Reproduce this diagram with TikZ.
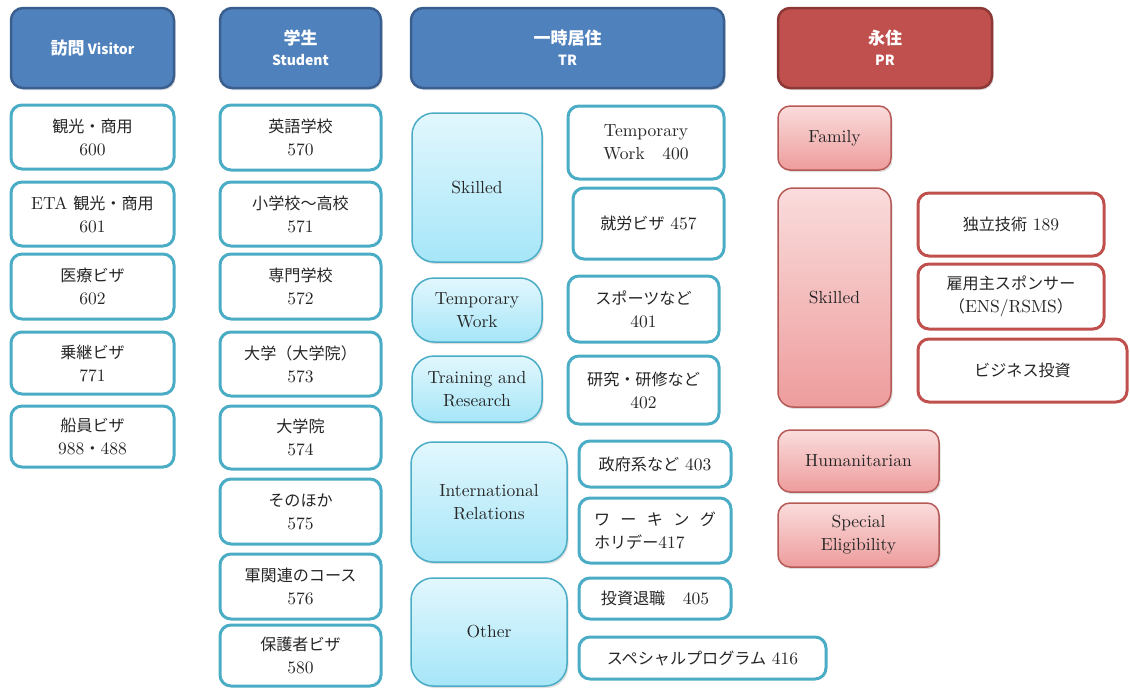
\documentclass[tikz,border=0pt]{standalone}
\usepackage{fontspec}
\setmainfont{lmroman10-regular}[Extension=.otf]
\newfontfamily\jp{Noto Sans CJK JP}[Scale=0.92]
\newfontfamily\jh{Noto Sans CJK JP}
\newcommand\hj[1]{{\fontsize{17}{21}\selectfont #1}}
\usetikzlibrary{shadows}
\definecolor{hdblue}{HTML}{4F81BD}
\definecolor{hdbluedark}{HTML}{3A5F8E}
\definecolor{hdred}{HTML}{C0504D}
\definecolor{hdreddark}{HTML}{8C3836}
\definecolor{tealb}{HTML}{4BACC6}
\definecolor{redb}{HTML}{C0504D}
\definecolor{pinkb}{HTML}{B65A57}
\definecolor{cyantop}{HTML}{E2F7FD}
\definecolor{cyanbot}{HTML}{A6E6F8}
\definecolor{pinktop}{HTML}{FADCDC}
\definecolor{pinkbot}{HTML}{EE9C9C}
\newcommand\mkbox[7]{\node[#6, minimum width={(#4-#2-2)*1pt}, minimum height={(#5-#3-2)*1pt}] (#1) at ({(#2+#4)/2},{(#3+#5)/2}) {#7};}
\tikzset{
  shad/.style={drop shadow={opacity=0.25, shadow xshift=1.5pt, shadow yshift=-2pt}},
  hdr/.style={rounded corners=12pt, draw=hdbluedark, line width=2.5pt, fill=hdblue, text=white,
    font=\jh\bfseries\fontsize{14}{21}\selectfont, align=center, inner sep=2pt, shad},
  hdrred/.style={hdr, draw=hdreddark, fill=hdred},
  wbox/.style={rounded corners=11pt, draw=tealb, line width=3pt, fill=white, align=center,
    font=\fontsize{17.5}{23}\selectfont, inner sep=2pt, text=black!85},
  rbox/.style={wbox, draw=redb},
  cbox/.style={rounded corners=22pt, draw=tealb, line width=1.5pt, top color=cyantop, bottom color=cyanbot,
    align=center, font=\fontsize{17.5}{23}\selectfont, inner sep=2pt, text=black!85, shad},
  pbox/.style={rounded corners=12pt, draw=pinkb, line width=1.5pt, top color=pinktop, bottom color=pinkbot,
    align=center, font=\fontsize{17.5}{23}\selectfont, inner sep=2pt, text=black!85, shad},
}
\begin{document}
\begin{tikzpicture}[x=1pt,y=-1pt]
\useasboundingbox (0,0) rectangle (1130,689);
% headers
\mkbox{hv}{10}{7}{175}{89}{hdr}{\hj{訪問} Visitor}
\mkbox{hs}{219}{7}{382}{89}{hdr}{\hj{学生}\\Student}
\mkbox{ht}{410}{7}{725}{89}{hdr}{\hj{一時居住}\\TR}
\mkbox{hp}{777}{7}{993}{89}{hdrred}{\hj{永住}\\PR}
% visitor
\mkbox{v1}{10}{104}{175}{170}{wbox}{{\jp 観光・商用}\\600}
\mkbox{v2}{10}{181}{175}{247}{wbox}{ETA {\jp 観光・商用}\\601}
\mkbox{v3}{10}{253}{175}{320}{wbox}{{\jp 医療ビザ}\\602}
\mkbox{v4}{10}{331}{175}{395}{wbox}{{\jp 乗継ビザ}\\771}
\mkbox{v5}{10}{405}{175}{468}{wbox}{{\jp 船員ビザ}\\988{\jp ・}488}
% student
\mkbox{s1}{219}{104}{382}{171}{wbox}{{\jp 英語学校}\\570}
\mkbox{s2}{219}{181}{382}{247}{wbox}{{\jp 小学校〜高校}\\571}
\mkbox{s3}{219}{253}{382}{320}{wbox}{{\jp 専門学校}\\572}
\mkbox{s4}{219}{331}{382}{397}{wbox}{{\jp 大学（大学院）}\\573}
\mkbox{s5}{219}{405}{382}{470}{wbox}{{\jp 大学院}\\574}
\mkbox{s6}{219}{478}{382}{545}{wbox}{{\jp そのほか}\\575}
\mkbox{s7}{219}{553}{382}{620}{wbox}{{\jp 軍関連のコース}\\576}
\mkbox{s8}{219}{624}{382}{687}{wbox}{{\jp 保護者ビザ}\\580}
% TR categories
\mkbox{c1}{411}{112}{543}{263}{cbox}{Skilled}
\mkbox{c2}{411}{277}{543}{343}{cbox}{Temporary\\Work}
\mkbox{c3}{411}{355}{543}{423}{cbox}{Training and\\Research}
\mkbox{c4}{410}{441}{568}{563}{cbox}{International\\Relations}
\mkbox{c5}{410}{577}{568}{687}{cbox}{Other}
% TR visas
\mkbox{t1}{567}{105}{725}{180}{wbox}{Temporary\\Work\quad 400}
\mkbox{t2}{572}{187}{725}{260}{wbox}{{\jp 就労ビザ} 457}
\mkbox{t3}{567}{275}{720}{343}{wbox}{{\jp スポーツなど}\\401}
\mkbox{t4}{567}{355}{720}{425}{wbox}{{\jp 研究・研修など}\\402}
\mkbox{t5}{578}{440}{732}{488}{wbox}{{\jp 政府系など} 403}
\mkbox{t6}{578}{497}{732}{564}{wbox,align=left}{{\jp\makebox[122pt][s]{ワ\hfill ー\hfill キ\hfill ン\hfill グ}}\\{\jp ホリデー}417}
\mkbox{t7}{578}{577}{732}{620}{wbox}{{\jp 投資退職}\quad 405}
\mkbox{t8}{578}{636}{827}{680}{wbox}{{\jp スペシャルプログラム} 416}
% PR
\mkbox{p1}{777}{105}{892}{171}{pbox}{Family}
\mkbox{p2}{777}{187}{892}{408}{pbox,rounded corners=15pt}{Skilled}
\mkbox{p3}{777}{429}{940}{493}{pbox}{Humanitarian}
\mkbox{p4}{777}{502}{940}{568}{pbox}{Special\\Eligibility}
\mkbox{r1}{917}{192}{1105}{257}{rbox}{{\jp 独立技術} 189}
\mkbox{r2}{917}{263}{1105}{330}{rbox}{{\jp 雇用主スポンサー}\\{\jp （}ENS/RSMS{\jp ）}}
\mkbox{r3}{917}{338}{1128}{403}{rbox}{{\jp ビジネス投資}}
\end{tikzpicture}
\end{document}
